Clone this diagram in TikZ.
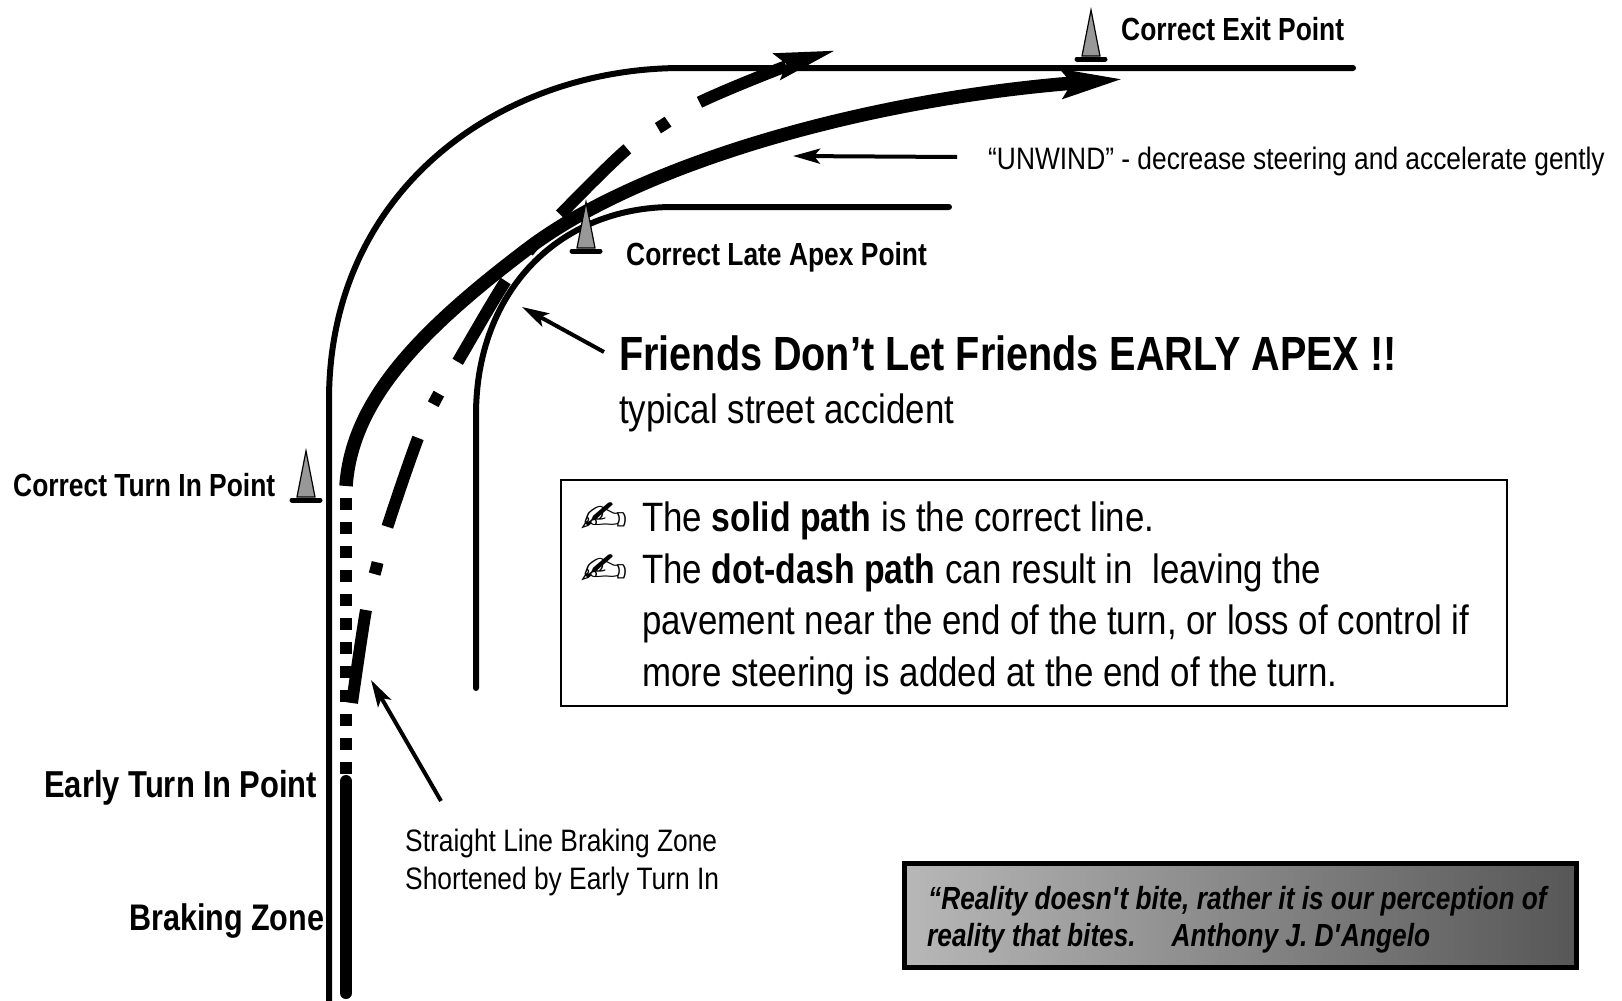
\documentclass[tikz,border=0pt]{standalone}
\usepackage{fontspec}
\setmainfont{Liberation Sans}[FakeStretch=0.85,BoldFeatures={FakeStretch=0.825},BoldItalicFeatures={FakeStretch=0.82}]
\newfontfamily\penfont{DejaVu Sans}[FakeStretch=1.3]
\usetikzlibrary{arrows.meta}
\newcommand{\sz}[1]{\fontsize{#1}{#1}\selectfont}
\tikzset{
  roadedge/.style={line width=6pt,line cap=round},
  solidpath/.style={line width=13.5pt},
  dotdash/.style={line width=12pt,dash pattern=on 94pt off 37pt on 12pt off 37pt},
  notearrow/.style={line width=4pt,-{Stealth[length=27pt,width=15pt,inset=6pt]}},
  lab/.style={inner sep=0pt,anchor=base west,align=left},
  cone/.pic={
    \fill[gray!85!black!70,draw=black,line width=1.2pt] (-9,-3) -- (0,-49) -- (9,-3) -- cycle;
    \draw[line width=5pt,line cap=round] (-14,0) -- (14,0);
  }
}
\begin{document}
\begin{tikzpicture}[x=1pt,y=-1pt]
\useasboundingbox (0,0) rectangle (1622,1001);
% road edges
\draw[roadedge] (329,1003) -- (329,400) .. controls (329,190) and (500,68) .. (682,68) -- (1353,68);
\draw[roadedge] (476,688) -- (476,415) .. controls (476,290) and (560,207) .. (673,207) -- (949,207);
% correct line
\draw[solidpath,-{Stealth[length=60pt,width=27pt,inset=8pt]}] (346,486) .. controls (352,400) and (420,330) .. (530,247) .. controls (640,165) and (860,100) .. (1124,79);
\draw[line width=12pt,dash pattern=on 12pt off 12pt] (346,498) -- (346,775);
\draw[line width=12pt,line cap=round] (346,781) -- (346,993);
% early apex line
\draw[dotdash,-{Stealth[length=60pt,width=25pt,inset=8pt]}] plot[smooth,tension=0.6] coordinates {(352,703) (366,610) (376,569) (387,528) (418,438) (436,399) (457,363) (505,282) (532,247) (560,215) (626,150) (663,125) (700,102) (784,67) (837,50)};
% cones
\pic at (1091,59) {cone};
\pic at (586,251) {cone};
\pic at (306,500) {cone};
% arrows
\coordinate (unwindtail) at (957,157);
\coordinate (unwindtip) at (793,156);
\coordinate (apextail) at (604,352);
\coordinate (apextip) at (522,307);
\coordinate (braketail) at (441,801);
\coordinate (braketip) at (371,680);
\draw[notearrow] (unwindtail) -- (unwindtip);
\draw[notearrow] (apextail) -- (apextip);
\draw[notearrow] (braketail) -- (braketip);
% labels
\node[lab,font=\sz{32}\bfseries] (exitlab) at (1121,40) {Correct Exit Point};
\node[lab,font=\sz{31}] (unwindlab) at (988,169) {“UNWIND” - decrease steering and accelerate gently};
\node[lab,font=\sz{32}\bfseries] (apexlab) at (626,265) {Correct Late Apex Point};
\node[lab,font=\sz{48}\bfseries] (friendslab) at (619,370) {Friends Don’t Let Friends EARLY APEX !!};
\node[lab,font=\sz{41}] (typicallab) at (619,423) {typical street accident};
\node[lab,font=\sz{32}\bfseries] (turnlab) at (13,496) {Correct Turn In Point};
\node[lab,font=\sz{37.5}\bfseries] (earlylab) at (44,797) {Early Turn In Point};
\node[lab,font=\sz{37}\bfseries] (brakelab) at (129,930) {Braking Zone};
\node[lab,font=\sz{31}] (shortlab) at (405,851) {Straight Line Braking Zone};
\node[lab,font=\sz{31}] (shortlabb) at (405,889) {Shortened by Early Turn In};
% note box
\node[draw,line width=2pt,minimum width=946pt,minimum height=226pt,anchor=north west] (notebox) at (560,479) {};
\node[lab,font=\sz{41}] (notea) at (642,531) {The \textbf{solid path} is the correct line.};
\node[lab,font=\sz{41}] (noteb) at (642,583) {The \textbf{dot-dash path} can result in\ \ leaving the};
\node[lab,font=\sz{41}] (notec) at (642,634) {pavement near the end of the turn, or loss of control if};
\node[lab,font=\sz{41}] (noted) at (642,686) {more steering is added at the end of the turn.};
\node[inner sep=0pt,font=\sz{44}\penfont] (pena) at (604,518) {✍};
\node[inner sep=0pt,font=\sz{44}\penfont] (penb) at (604,570) {✍};
% quote
\node[draw,line width=5pt,left color=black!28,right color=black!66,minimum width=672pt,minimum height=104pt,anchor=north west] (quotebox) at (902,861) {};
\node[lab,font=\sz{32}\bfseries\itshape] (quotea) at (928,909) {“Reality doesn\textquotesingle t bite, rather it is our perception of};
\node[lab,font=\sz{32}\bfseries\itshape] (quoteb) at (927,946) {reality that bites.\hspace{36pt}Anthony J. D\textquotesingle Angelo};
\end{tikzpicture}
\end{document}
